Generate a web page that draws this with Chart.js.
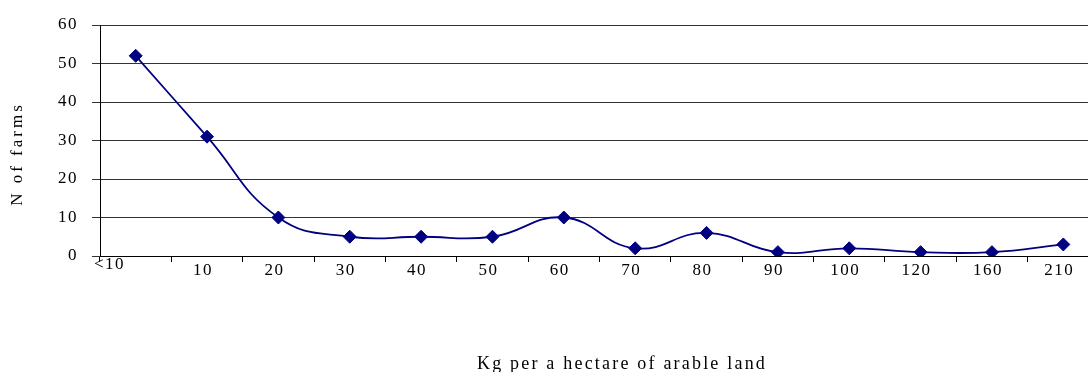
<!DOCTYPE html>
<html><head><meta charset="utf-8">
<script src="https://cdn.jsdelivr.net/npm/chart.js@4"></script>
<style>html,body{margin:0;padding:0;background:#fff;overflow:hidden}#wrap{width:1100px;height:372px;position:relative}canvas{display:block}</style>
</head><body><div id="wrap"><canvas id="c" width="1100" height="372"></canvas></div>
<script>
const categories = ['<10','10','20','30','40','50','60','70','80','90','100','120','160','210'];
const farms = [52,31,10,5,5,5,10,2,6,1,2,1,1,3];
const yTicks = [0,10,20,30,40,50,60];
const yTitle = 'N of farms';
const xTitle = 'Kg per a hectare of arable land';
const FONT = '"Liberation Serif", "Times New Roman", serif';

const textPlugin = {
  id: 'textPlugin',
  beforeDraw(chart) { chart.ctx.letterSpacing = '1.5px'; },
  afterDraw(chart) {
    const ctx = chart.ctx, x = chart.scales.x;
    ctx.save();
    ctx.fillStyle = '#000';
    ctx.font = '17px ' + FONT;
    ctx.letterSpacing = '1.5px';
    ctx.textAlign = 'center';
    ctx.textBaseline = 'middle';
    const step = x.getPixelForValue(1) - x.getPixelForValue(0);
    for (let i = 1; i < categories.length; i++) {
      ctx.fillText(categories[i], x.getPixelForValue(i) - 4, 271);
    }
    const x0 = x.getPixelForValue(0) - step / 2;
    ctx.fillText(categories[0], x0 + 9.5, 265);
    ctx.font = '18px ' + FONT;
    ctx.letterSpacing = '2.2px';
    ctx.textBaseline = 'alphabetic';
    ctx.fillText(xTitle, 622, 369);
    ctx.translate(18, 154);
    ctx.rotate(-Math.PI / 2);
    ctx.font = '17px ' + FONT;
    ctx.letterSpacing = '3px';
    ctx.textBaseline = 'middle';
    ctx.fillText(yTitle, 0, 0);
    ctx.restore();
  }
};

new Chart(document.getElementById('c'), {
  type: 'line',
  data: {
    labels: categories,
    datasets: [{
      data: farms,
      borderColor: '#000080',
      backgroundColor: '#000080',
      borderWidth: 1.8,
      tension: 0.45,
      pointStyle: 'rectRot',
      pointRadius: 6.5,
      pointBorderWidth: 1,
      pointBorderColor: '#000080',
      pointBackgroundColor: '#000080',
      fill: false
    }]
  },
  options: {
    responsive: false,
    maintainAspectRatio: false,
    devicePixelRatio: 1,
    animation: false,
    layout: { autoPadding: false, padding: { top: 25, right: 1, left: 0, bottom: 0 } },
    plugins: { legend: { display: false }, tooltip: { enabled: false } },
    scales: {
      x: {
        offset: true,
        grid: { offset: true, drawOnChartArea: false, drawTicks: true, tickLength: 6, color: '#000', lineWidth: 1 },
        border: { display: true, color: '#000', width: 1 },
        ticks: { display: false, autoSkip: false },
        afterFit: s => { s.height = 116; s.paddingLeft = 0; s.paddingRight = 0; }
      },
      y: {
        min: 0, max: 60,
        afterBuildTicks: s => { s.ticks = yTicks.map(v => ({ value: v })); },
        grid: { color: '#333', lineWidth: 1, tickLength: 8, drawTicks: true },
        border: { display: true, color: '#000', width: 1 },
        ticks: { color: '#000', font: { family: FONT, size: 17 }, padding: 14 },
        afterFit: s => { s.width = 100; }
      }
    }
  },
  plugins: [textPlugin]
});
</script></body></html>
